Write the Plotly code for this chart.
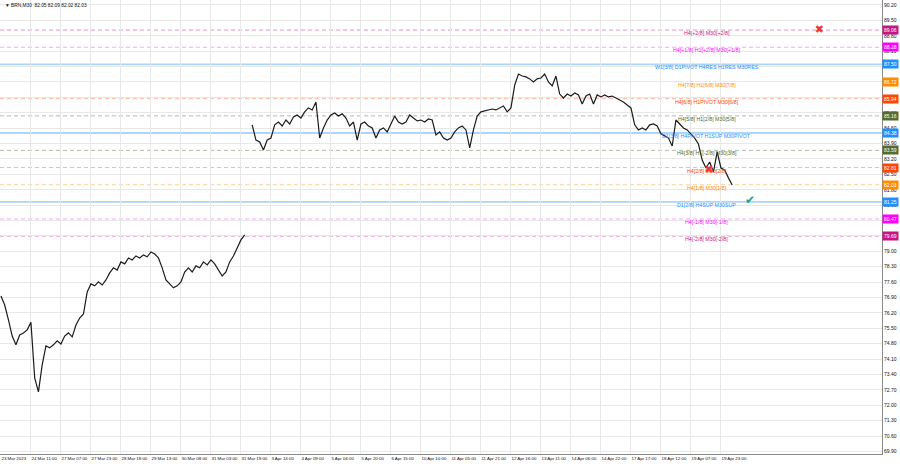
import plotly.graph_objects as go

# ---------------- data ----------------
closes_mar = [76.97, 76.56, 75.88, 75.15, 74.75, 75.20, 75.29, 75.43, 75.77, 73.25,
              72.61, 73.84, 74.70, 74.61, 74.75, 74.93, 74.79, 75.15, 75.29, 75.11,
              75.65, 75.97, 76.15, 77.15, 77.52, 77.43, 77.61, 77.47, 77.70, 78.02,
              78.25, 78.15, 78.52, 78.43, 78.70, 78.61, 78.79, 78.70, 78.84, 78.75,
              78.97, 78.88, 78.70, 78.25, 77.70, 77.52, 77.34, 77.43, 77.61, 78.06,
              78.25, 78.06, 78.34, 78.25, 78.52, 78.38, 78.61, 78.43, 78.15, 77.88,
              78.06, 78.52, 78.79, 79.16, 79.52, 79.75]
closes_apr = [84.75, 84.06, 83.97, 83.61, 84.06, 84.15, 84.75, 84.88, 84.70, 84.97,
              84.79, 85.11, 85.20, 85.06, 85.34, 85.52, 85.43, 85.79, 84.15, 84.61,
              84.97, 85.20, 85.29, 85.15, 85.25, 85.06, 84.70, 84.88, 84.06, 84.79,
              84.88, 84.70, 84.61, 84.15, 84.52, 84.61, 84.43, 84.79, 85.15, 84.88,
              84.79, 84.88, 85.20, 85.06, 84.93, 84.97, 84.88, 85.02, 84.97, 84.29,
              84.43, 84.15, 84.06, 84.15, 84.43, 84.61, 84.70, 84.52, 83.70, 84.52,
              85.15, 85.34, 85.38, 85.43, 85.47, 85.43, 85.52, 85.61, 85.34, 85.52,
              86.56, 87.06, 86.97, 86.93, 86.84, 86.70, 86.84, 86.88, 87.06, 86.70,
              86.52, 86.97, 86.15, 85.97, 86.15, 86.06, 86.20, 86.11, 85.70, 86.06,
              86.15, 85.70, 86.11, 86.02, 86.11, 86.02, 86.06, 85.97, 85.88, 85.79,
              85.65, 85.52, 84.75, 84.52, 84.61, 84.52, 84.75, 84.79, 84.70, 84.34,
              84.25, 84.15, 83.79, 84.97, 84.79, 84.61, 84.52, 84.34, 84.15, 83.88,
              83.15, 82.79, 83.06, 82.61, 83.52, 82.79, 82.70, 82.34, 82.02]

x_tick_labels = ["23 Mar 2023", "24 Mar 11:00", "27 Mar 07:00", "27 Mar 23:00", "28 Mar 18:00",
                 "29 Mar 13:00", "30 Mar 08:00", "31 Mar 03:00", "31 Mar 19:00", "3 Apr 14:00",
                 "4 Apr 09:00", "5 Apr 04:00", "5 Apr 20:00", "6 Apr 15:00", "10 Apr 10:00",
                 "11 Apr 05:00", "11 Apr 21:00", "12 Apr 16:00", "13 Apr 11:00", "14 Apr 06:00",
                 "14 Apr 22:00", "17 Apr 17:00", "18 Apr 12:00", "19 Apr 07:00", "19 Apr 23:00"]

levels = [89.06, 88.28, 87.50, 86.72, 85.94, 85.16, 84.38, 83.59, 82.81, 82.03, 81.25, 80.47, 79.69]
level_texts = ["H4[+2/8] M30[+2/8]",
               "H4[+1/8] H1[+2/8] M30[+1/8]",
               "W1[3/8] D1PIVOT H4RES H1RES M30RES",
               "H4[7/8] H1[6/8] M30[7/8]",
               "H4[6/8] H1PIVOT M30[6/8]",
               "H4[5/8] H1[2/8] M30[5/8]",
               "D1[3/8] H4PIVOT H1SUP M30PIVOT",
               "H4[3/8] H1[-2/8] M30[3/8]",
               "H4[2/8] M30[2/8]",
               "H4[1/8] M30[1/8]",
               "D1[2/8] H4SUP M30SUP",
               "H4[-1/8] M30[-1/8]",
               "H4[-2/8] M30[-2/8]"]
level_kinds = ["p2", "p1", "piv", "o7", "o6", "o5", "piv", "o5", "o6", "o7", "piv", "p1", "p2"]

# signal marks: bar index, price
sell_bars = [873, 755]
sell_prices = [89.06, 82.70]
buy_bars = [799]
buy_prices = [81.29]

title_text = "BRN,M30  82.05 82.09 82.02 82.03"

# ---------------- styles ----------------
BAR_STEP = 4
TICK_STEP = 32
kind_style = {
    "p2": dict(color="#C71585", line="rgba(199,21,133,0.45)", dash="4px,3px", width=1),
    "p1": dict(color="#FF00FF", line="rgba(255,0,255,0.38)", dash="4px,3px", width=1),
    "piv": dict(color="#1E90FF", line="rgba(30,144,255,0.38)", dash="solid", width=1.8),
    "o7": dict(color="#FF8C00", line="rgba(255,140,0,0.40)", dash="4px,3px", width=1),
    "o6": dict(color="#FF4500", line="rgba(255,69,0,0.40)", dash="4px,3px", width=1),
    "o5": dict(color="#556B2F", line="rgba(85,107,47,0.45)", dash="4px,3px", width=1),
}
FONT = "Liberation Sans"

x_mar = [BAR_STEP * k for k in range(len(closes_mar))]
gap_x = BAR_STEP * len(closes_mar)
x_apr = [BAR_STEP * (len(closes_mar) + 1 + k) for k in range(len(closes_apr))]
xs = x_mar + [gap_x] + x_apr
ys = closes_mar + [None] + closes_apr

fig = go.Figure()
fig.add_trace(go.Scatter(x=xs, y=ys, mode="lines", connectgaps=False,
                         line=dict(color="#1c1c1c", width=1.2), hoverinfo="skip",
                         showlegend=False))

shapes = []
annotations = []
for lv, txt, kind in zip(levels, level_texts, level_kinds):
    st = kind_style[kind]
    shapes.append(dict(type="line", xref="paper", x0=0, x1=1, yref="y", y0=lv, y1=lv,
                       line=dict(color=st["line"], width=st["width"], dash=st["dash"]),
                       layer="below"))
    annotations.append(dict(x=753, y=lv, xref="x", yref="y", text=txt, showarrow=False,
                            yshift=-3, font=dict(family=FONT, size=5.3, color=st["color"])))
    annotations.append(dict(x=1, y=lv, xref="paper", yref="y", text=f"{lv:.2f}",
                            showarrow=False, xanchor="left", xshift=0, bgcolor=st["color"],
                            borderpad=1, font=dict(family=FONT, size=5, color="white")))

fig.add_trace(go.Scatter(x=sell_bars, y=sell_prices, mode="text", text=["✖"] * len(sell_bars),
                         textfont=dict(size=11, color="#E8383D", family="DejaVu Sans"),
                         hoverinfo="skip", showlegend=False))
fig.add_trace(go.Scatter(x=buy_bars, y=buy_prices, mode="text", text=["✔"] * len(buy_bars),
                         textfont=dict(size=12, color="#1FA385", family="DejaVu Sans"),
                         hoverinfo="skip", showlegend=False))

annotations.append(dict(x=0, y=1, xref="paper", yref="paper", xanchor="left", yanchor="top",
                        xshift=3, yshift=-1, text="▼ " + title_text, showarrow=False,
                        font=dict(family=FONT, size=4.8, color="#111")))

fig.update_layout(
    width=900, height=468,
    margin=dict(l=0, r=18, t=0, b=14),
    paper_bgcolor="white", plot_bgcolor="white",
    shapes=shapes, annotations=annotations,
    showlegend=False,
    xaxis=dict(range=[-1, 939.8], tickmode="array",
               tickvals=[TICK_STEP * i for i in range(len(x_tick_labels))],
               ticktext=x_tick_labels, ticklabelposition="outside right", tickangle=0,
               tickfont=dict(family=FONT, size=4.4, color="#111"),
               showgrid=True, gridcolor="#e8e8e8", gridwidth=1,
               showline=True, linecolor="#8a8a8a", linewidth=1, mirror=True,
               ticks="", zeroline=False, fixedrange=True),
    yaxis=dict(range=[69.786, 90.427], side="right", tick0=69.9, dtick=0.7,
               tickformat=".2f", tickfont=dict(family=FONT, size=5, color="#111"),
               showgrid=True, gridcolor="#e8e8e8", gridwidth=1,
               showline=True, linecolor="#8a8a8a", linewidth=1, mirror=True,
               ticks="", zeroline=False, fixedrange=True),
)

fig.write_html("out.html", config={"displayModeBar": False},
               post_script="document.body.style.margin='0';")
